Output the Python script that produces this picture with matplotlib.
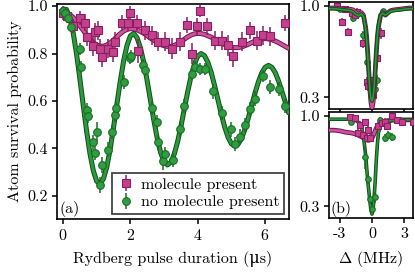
import matplotlib
matplotlib.use("Agg")
from matplotlib import pyplot as plt
import matplotlib.patheffects as pe

plt.rcParams['font.family'] = ['cmr10', 'DejaVu Serif']
plt.rcParams['mathtext.fontset'] = 'cm'
plt.rcParams['axes.unicode_minus'] = False
plt.rcParams['axes.formatter.use_mathtext'] = True
plt.rcParams['font.size'] = 11.5

# colours
magFace = "#c4408f"
magEdge = "#8a1f5f"
magLine = "#cf4fa0"
magDark = "#6e1548"
grnFace = "#2e9e3e"
grnEdge = "#1c6b28"
grnLine = "#2a9a3a"
grnDark = "#114d1a"

# ---- panel (a): fitted curves, read every 0.1 us ----
fitT = [0.0, 0.1, 0.2, 0.3, 0.4, 0.5, 0.6, 0.7, 0.8, 0.9, 1.0, 1.1, 1.2, 1.3, 1.4, 1.5, 1.6, 1.7,
        1.8, 1.9, 2.0, 2.1, 2.2, 2.3, 2.4, 2.5, 2.6, 2.7, 2.8, 2.9, 3.0, 3.1, 3.2, 3.3, 3.4, 3.5,
        3.6, 3.7, 3.8, 3.9, 4.0, 4.1, 4.2, 4.3, 4.4, 4.5, 4.6, 4.7, 4.8, 4.9, 5.0, 5.1, 5.2, 5.3,
        5.4, 5.5, 5.6, 5.7, 5.8, 5.9, 6.0, 6.1, 6.2, 6.3, 6.4, 6.5, 6.6, 6.7]
fitNoMol = [0.988, 0.986, 0.952, 0.888, 0.799, 0.693, 0.581, 0.472, 0.377, 0.305, 0.261, 0.251,
            0.272, 0.322, 0.397, 0.489, 0.588, 0.684, 0.770, 0.835, 0.875, 0.885, 0.866, 0.823,
            0.761, 0.683, 0.599, 0.515, 0.440, 0.381, 0.343, 0.330, 0.341, 0.375, 0.427, 0.492,
            0.565, 0.638, 0.703, 0.755, 0.789, 0.800, 0.791, 0.763, 0.720, 0.665, 0.605, 0.545,
            0.490, 0.447, 0.419, 0.410, 0.418, 0.442, 0.480, 0.527, 0.580, 0.633, 0.680, 0.718,
            0.742, 0.750, 0.742, 0.720, 0.684, 0.640, 0.595, 0.550]
fitMol = [0.975, 0.972, 0.965, 0.952, 0.936, 0.917, 0.898, 0.878, 0.861, 0.846, 0.836, 0.831,
          0.831, 0.836, 0.845, 0.857, 0.871, 0.884, 0.895, 0.902, 0.905, 0.904, 0.900, 0.893,
          0.885, 0.875, 0.865, 0.855, 0.846, 0.838, 0.833, 0.830, 0.830, 0.834, 0.841, 0.850,
          0.860, 0.870, 0.878, 0.883, 0.885, 0.884, 0.881, 0.875, 0.869, 0.861, 0.853, 0.845,
          0.838, 0.832, 0.827, 0.825, 0.825, 0.828, 0.833, 0.839, 0.846, 0.852, 0.858, 0.862,
          0.863, 0.862, 0.858, 0.853, 0.846, 0.838, 0.830, 0.822]

# ---- panel (a): measured points ----
molT = [0.0, 0.12, 0.3, 0.5, 0.65, 0.71, 0.9, 0.95, 1.04, 1.1, 1.15, 1.34, 1.48, 1.54, 1.75,
        1.93, 1.99, 2.19, 2.23, 2.43, 2.64, 2.83, 3.03, 3.23, 3.47, 3.68, 3.82, 3.98, 4.07,
        4.27, 4.5, 4.72, 4.9, 5.05, 5.31, 5.55, 5.75, 5.93, 6.14, 6.59]
molV = [0.97, 0.957, 0.915, 0.95, 0.93, 0.87, 0.83, 0.89, 0.898, 0.82, 0.787, 0.82, 0.808, 0.85,
        0.928, 0.93, 0.97, 0.928, 0.81, 0.898, 0.877, 0.85, 0.85, 0.82, 0.85, 0.92, 0.80, 0.915,
        0.98, 0.915, 0.855, 0.855, 0.834, 0.79, 0.85, 0.898, 0.855, 0.877, 0.872, 0.928]
molErr = [0.03, 0.03, 0.03, 0.03, 0.035, 0.04, 0.04, 0.04, 0.04, 0.04, 0.045, 0.04, 0.045, 0.04,
          0.035, 0.035, 0.03, 0.035, 0.05, 0.04, 0.04, 0.04, 0.04, 0.045, 0.04, 0.035, 0.045,
          0.035, 0.025, 0.035, 0.04, 0.04, 0.045, 0.045, 0.04, 0.035, 0.04, 0.04, 0.04, 0.035]

noMolT = [0.0, 0.05, 0.15, 0.25, 0.5, 0.52, 0.72, 0.75, 0.9, 0.95, 1.0, 1.1, 1.15, 1.34, 1.45,
          1.54, 1.58, 1.81, 1.98, 2.02, 2.37, 2.42, 2.64, 2.78, 2.83, 2.97, 3.02, 3.27, 3.47,
          3.6, 3.82, 3.92, 4.07, 4.21, 4.45, 4.72, 5.0, 5.1, 5.25, 5.4, 5.55, 5.7, 5.93, 6.14,
          6.4, 6.59]
noMolV = [0.98, 0.97, 0.95, 0.91, 0.82, 0.745, 0.56, 0.535, 0.425, 0.38, 0.47, 0.245, 0.33,
          0.395, 0.47, 0.54, 0.57, 0.68, 0.78, 0.79, 0.75, 0.73, 0.57, 0.51, 0.425, 0.345, 0.375,
          0.35, 0.48, 0.58, 0.715, 0.745, 0.735, 0.735, 0.64, 0.55, 0.48, 0.42, 0.45, 0.50,
          0.566, 0.61, 0.706, 0.66, 0.65, 0.58]
noMolErr = [0.015, 0.015, 0.02, 0.02, 0.025, 0.025, 0.03, 0.03, 0.03, 0.03, 0.04, 0.035, 0.035,
            0.03, 0.03, 0.03, 0.03, 0.03, 0.025, 0.025, 0.025, 0.025, 0.03, 0.03, 0.03, 0.035,
            0.03, 0.03, 0.03, 0.03, 0.025, 0.025, 0.025, 0.025, 0.03, 0.03, 0.03, 0.03, 0.03,
            0.03, 0.03, 0.03, 0.025, 0.03, 0.03, 0.03]

# ---- panel (b): spectra ----
detFit = [-4.0, -3.5, -3.0, -2.5, -2.0, -1.75, -1.5, -1.25, -1.0, -0.8, -0.6, -0.5, -0.4, -0.3,
          -0.2, -0.1, 0.0, 0.1, 0.2, 0.3, 0.4, 0.5, 0.6, 0.8, 1.0, 1.25, 1.5, 1.75, 2.0, 2.5,
          3.0, 3.5, 4.0]
topMolFit = [0.985, 0.985, 0.98, 0.975, 0.975, 0.97, 0.95, 0.935, 0.95, 0.93, 0.84, 0.76, 0.64,
             0.50, 0.36, 0.26, 0.22, 0.26, 0.36, 0.50, 0.64, 0.76, 0.84, 0.93, 0.95, 0.93, 0.95,
             0.965, 0.97, 0.975, 0.98, 0.985, 0.985]
topNoMolFit = [0.98, 0.98, 0.975, 0.97, 0.965, 0.955, 0.935, 0.925, 0.94, 0.92, 0.83, 0.74,
               0.62, 0.48, 0.36, 0.29, 0.27, 0.30, 0.38, 0.52, 0.66, 0.77, 0.85, 0.93, 0.945,
               0.93, 0.945, 0.96, 0.965, 0.97, 0.975, 0.98, 0.98]
botMolFit = [0.89, 0.89, 0.885, 0.875, 0.87, 0.865, 0.86, 0.85, 0.84, 0.83, 0.82, 0.815, 0.812,
             0.812, 0.815, 0.82, 0.83, 0.845, 0.865, 0.885, 0.905, 0.92, 0.93, 0.945, 0.955,
             0.96, 0.965, 0.965, 0.97, 0.97, 0.97, 0.97, 0.97]
botNoMolFit = [0.975, 0.975, 0.975, 0.975, 0.975, 0.97, 0.965, 0.95, 0.92, 0.84, 0.70, 0.60,
               0.50, 0.42, 0.34, 0.27, 0.24, 0.28, 0.37, 0.50, 0.66, 0.78, 0.87, 0.93, 0.95,
               0.955, 0.96, 0.965, 0.965, 0.97, 0.97, 0.97, 0.97]

topMolD = [-3.3, -2.8, -2.5, -2.25, -1.9, -1.6, -1.4, -0.85, -0.5, -0.35, -0.2, 0.1, 0.47, 0.85]
topMolV = [1.0, 0.88, 0.975, 0.80, 0.95, 0.93, 0.955, 0.715, 0.415, 0.39, 0.43, 0.315, 0.60, 0.79]
topMolE = [0.02, 0.03, 0.02, 0.03, 0.03, 0.03, 0.03, 0.04, 0.04, 0.04, 0.04, 0.03, 0.04, 0.04]
topNoMolD = [-3.0, -1.75, -0.85, -0.5, -0.1, 0.3, 0.47, 1.0]
topNoMolV = [0.975, 0.91, 0.78, 0.57, 0.40, 0.36, 0.43, 0.96]
topNoMolE = [0.02, 0.03, 0.03, 0.04, 0.04, 0.04, 0.04, 0.02]

botMolD = [-2.1, -1.6, -1.1, -1.3, -0.85, -0.65, -0.45, -0.35, -0.2, 0.55, 0.9, 1.2, 1.4, 1.85,
           2.3, 2.8, 3.8]
botMolV = [0.99, 0.985, 0.93, 0.87, 0.85, 0.95, 0.83, 0.89, 0.83, 0.92, 0.945, 0.955, 0.92, 1.0,
           0.97, 0.955, 0.95]
botMolE = [0.02, 0.02, 0.03, 0.03, 0.03, 0.03, 0.03, 0.03, 0.03, 0.03, 0.03, 0.03, 0.03, 0.02,
           0.02, 0.02, 0.02]
botNoMolD = [-2.0, -0.65, -0.35, -0.2, 0.0, 0.28, 0.75, 1.2, 1.5, 1.85, 2.6]
botNoMolV = [0.955, 0.68, 0.51, 0.355, 0.28, 0.37, 0.97, 0.83, 0.85, 0.84, 0.97]
botNoMolE = [0.02, 0.09, 0.04, 0.04, 0.03, 0.04, 0.02, 0.03, 0.03, 0.03, 0.02]


def curve(ax, x, y, color, dark, lw, z=3):
	ax.plot(x, y, color=color, lw=lw, solid_capstyle='round', zorder=z,
		path_effects=[pe.Stroke(linewidth=lw + 1.4, foreground=dark), pe.Normal()])


def points(ax, x, y, e, marker, face, edge, ms, label=None):
	return ax.errorbar(x, y, yerr=e, fmt=marker, ms=ms, mfc=face, mec=edge, mew=0.8,
		ecolor=edge, elinewidth=1.1, capsize=0, zorder=4, label=label)


fig = plt.figure(figsize=(4.15, 2.76), dpi=100)
axA = fig.add_axes([57 / 415, 57 / 276, 232 / 415, 215 / 276])
axT = fig.add_axes([329 / 415, 167 / 276, 84 / 415, 107 / 276])
axB = fig.add_axes([329 / 415, 58 / 276, 84 / 415, 106 / 276])

# panel (a)
curve(axA, fitT, fitNoMol, grnLine, grnDark, 2.2)
curve(axA, fitT, fitMol, magLine, magDark, 2.2)
hMol = points(axA, molT, molV, molErr, 's', magFace, magEdge, 5.5, "molecule present")
hNo = points(axA, noMolT, noMolV, noMolErr, 'o', grnFace, grnEdge, 5.5, "no molecule present")

axA.set_xlim(-0.18, 6.71)
axA.set_ylim(0.102, 1.009)
axA.set_xticks([0, 2, 4, 6])
axA.set_yticks([0.2, 0.4, 0.6, 0.8, 1.0])
axA.set_yticklabels(["0.2", "0.4", "0.6", "0.8", "1.0"])
axA.set_xlabel("Rydberg pulse duration (μs)", labelpad=6)
axA.set_ylabel("Atom survival probability", labelpad=4)
axA.text(0.012, 0.01, "(a)", transform=axA.transAxes, ha='left', va='bottom')
leg = axA.legend(handles=[hMol, hNo], loc='lower right', fancybox=False, framealpha=1,
	edgecolor='#444444', borderaxespad=0.3, handletextpad=0.3, borderpad=0.3,
	labelspacing=0.2, handlelength=1.2)
leg.get_frame().set_linewidth(1.3)

# panel (b) top
points(axT, topNoMolD, topNoMolV, topNoMolE, 'o', grnFace, grnEdge, 4)
curve(axT, detFit, topNoMolFit, grnLine, grnDark, 1.2, z=4.5)
curve(axT, detFit, topMolFit, magLine, magDark, 2.0, z=4.2)
points(axT, topMolD, topMolV, topMolE, 's', magFace, magEdge, 4)

# panel (b) bottom
curve(axB, detFit, botMolFit, magLine, magDark, 2.0)
curve(axB, detFit, botNoMolFit, grnLine, grnDark, 1.2)
points(axB, botNoMolD, botNoMolV, botNoMolE, 'o', grnFace, grnEdge, 4)
points(axB, botMolD, botMolV, botMolE, 's', magFace, magEdge, 4)
axB.text(0.02, 0.01, "(b)", transform=axB.transAxes, ha='left', va='bottom')
axB.set_xlabel(r"$\Delta$ (MHz)", labelpad=6)

for ax in [axT, axB]:
	ax.set_xlim(-4.02, 3.83)
	ax.set_ylim(0.21, 1.031)
	ax.set_yticks([0.3, 1.0])
	ax.set_yticklabels(["0.3", "1.0"])
	ax.set_xticks([-3, 0, 3])
axT.set_xticklabels([])
axB.set_xticklabels(["-3", "0", "3"])

for ax in [axA, axT, axB]:
	for s in ax.spines.values():
		s.set_linewidth(1.2)
	ax.tick_params(direction='out', length=3.5, width=1.1, pad=3)

fig.savefig("out.png", dpi=100)
